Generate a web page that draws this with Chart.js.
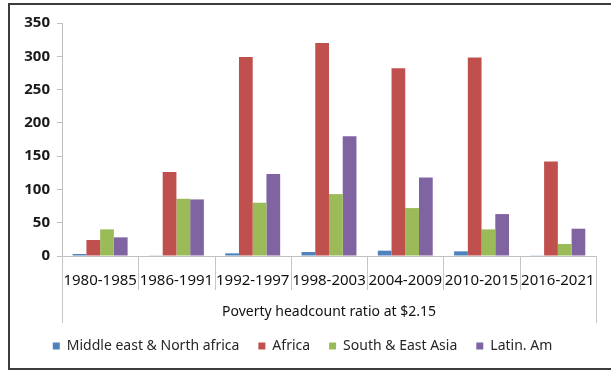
<!DOCTYPE html>
<html>
<head>
<meta charset="utf-8">
<script src="https://cdn.jsdelivr.net/npm/chart.js@4.4.0/dist/chart.umd.min.js"></script>
<style>
  body { margin: 0; background: #fff; }
  #wrap { position: relative; width: 611px; height: 372px; overflow: hidden; }
  #frame { position: absolute; left: 8px; top: 3px; width: 620px; height: 363px;
           border: 2px solid #3c3c3c; pointer-events: none; }
</style>
</head>
<body>
<div id="wrap">
  <canvas id="povertyChart" width="611" height="372"></canvas>
  <div id="frame"></div>
</div>
<script>
// Poverty headcount ratio at $2.15, by region and period
const periods = ['1980-1985', '1986-1991', '1992-1997', '1998-2003', '2004-2009', '2010-2015', '2016-2021'];
const menaValues = [3, 1, 4, 6, 8, 7, 1];
const africaValues = [24, 126, 299, 320, 282, 298, 142];
const asiaValues = [40, 86, 80, 93, 72, 40, 18];
const latinValues = [28, 85, 123, 180, 118, 63, 41];
const yTicks = [0, 50, 100, 150, 200, 250, 300, 350];

// category separators below the x axis (multi-level look)
const separatorPlugin = {
  id: 'separators',
  afterDraw(chart) {
    const x = chart.scales.x;
    const ctx = chart.ctx;
    const n = periods.length;
    const w = (x.right - x.left) / n;
    ctx.save();
    ctx.strokeStyle = '#c6c6c6';
    ctx.lineWidth = 1;
    for (let i = 0; i <= n; i++) {
      const px = Math.round(x.left + i * w) + 0.5;
      const end = (i === 0 || i === n) ? 323 : 290;
      ctx.beginPath();
      ctx.moveTo(px, x.top);
      ctx.lineTo(px, end);
      ctx.stroke();
    }
    ctx.restore();
  }
};

let ctx = document.getElementById('povertyChart');
let povertyChart = new Chart(ctx, {
  type: 'bar',
  data: {
    labels: periods,
    datasets: [{
      label: 'Middle east & North africa',
      data: menaValues,
      backgroundColor: '#4F81BD'
    },
    {
      label: 'Africa',
      data: africaValues,
      backgroundColor: '#C0504D'
    },
    {
      label: 'South & East Asia',
      data: asiaValues,
      backgroundColor: '#9BBB59'
    },
    {
      label: 'Latin. Am',
      data: latinValues,
      backgroundColor: '#8064A2'
    }
    ]
  },
  plugins: [separatorPlugin],
  options: {
    responsive: false,
    animation: false,
    devicePixelRatio: 1,
    layout: {
      padding: { left: 0, right: 6, top: 23, bottom: 9 }
    },
    datasets: {
      bar: { categoryPercentage: 0.72, barPercentage: 1.0 }
    },
    plugins: {
      legend: {
        position: 'bottom',
        labels: {
          boxWidth: 7,
          boxHeight: 7,
          padding: 19,
          color: '#262626',
          font: { family: 'Noto Sans', size: 14 }
        }
      },
      tooltip: { enabled: false }
    },
    scales: {
      x: {
        grid: { display: false, drawTicks: false },
        border: { display: true, color: '#c0c0c0' },
        ticks: {
          padding: 16,
          color: '#111',
          maxRotation: 0,
          autoSkip: false,
          font: { family: 'Noto Sans', size: 15 }
        },
        title: {
          display: true,
          text: 'Poverty headcount ratio at $2.15',
          color: '#111',
          padding: { top: 4, bottom: 0 },
          font: { family: 'Noto Sans', size: 14 }
        },
        afterFit(scale) { scale.height = 64; }
      },
      y: {
        min: 0,
        max: 350,
        afterBuildTicks(scale) {
          scale.ticks = yTicks.map(v => ({ value: v }));
        },
        grid: { drawOnChartArea: false, drawTicks: true, tickLength: 5, color: '#c0c0c0' },
        border: { display: true, color: '#c0c0c0' },
        ticks: {
          padding: 7,
          color: '#1a1a1a',
          font: { family: 'Noto Sans', size: 15, weight: 'bold' }
        },
        afterFit(scale) { scale.width = 62; }
      }
    }
  }
});
</script>
</body>
</html>
